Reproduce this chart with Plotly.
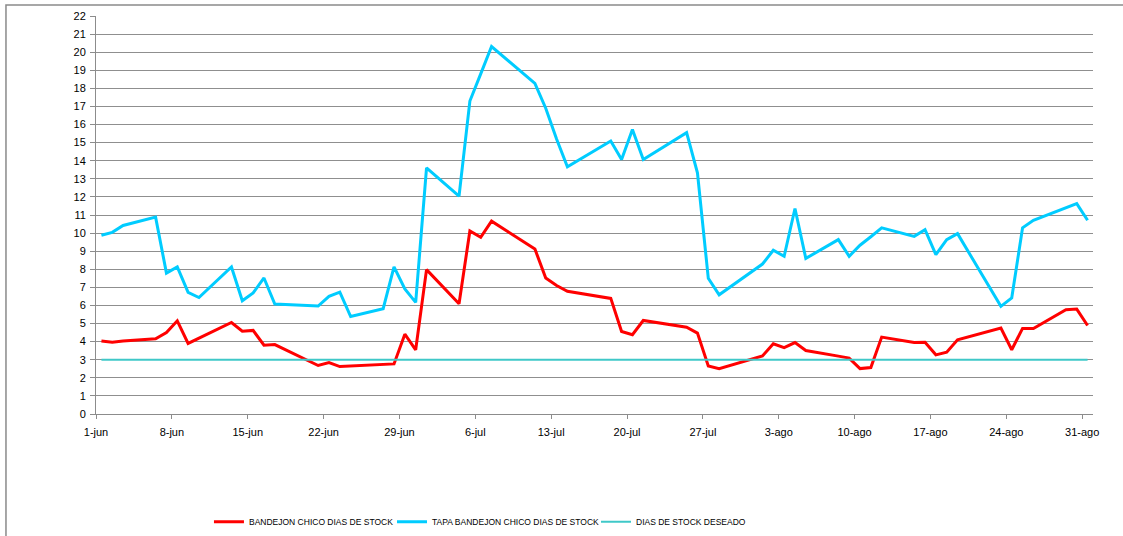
import pandas as pd
import plotly.graph_objects as go

dates = ["2013-06-01", "2013-06-02", "2013-06-03", "2013-06-06", "2013-06-07", "2013-06-08",
         "2013-06-09", "2013-06-10", "2013-06-13", "2013-06-14", "2013-06-15", "2013-06-16",
         "2013-06-17", "2013-06-21", "2013-06-22", "2013-06-23", "2013-06-24", "2013-06-27",
         "2013-06-28", "2013-06-29", "2013-06-30", "2013-07-01", "2013-07-04", "2013-07-05",
         "2013-07-06", "2013-07-07", "2013-07-11", "2013-07-12", "2013-07-13", "2013-07-14",
         "2013-07-18", "2013-07-19", "2013-07-20", "2013-07-21", "2013-07-25", "2013-07-26",
         "2013-07-27", "2013-07-28", "2013-08-01", "2013-08-02", "2013-08-03", "2013-08-04",
         "2013-08-05", "2013-08-08", "2013-08-09", "2013-08-10", "2013-08-11", "2013-08-12",
         "2013-08-15", "2013-08-16", "2013-08-17", "2013-08-18", "2013-08-19", "2013-08-23",
         "2013-08-24", "2013-08-25", "2013-08-26", "2013-08-29", "2013-08-30", "2013-08-31"]

bandejon = [4.04, 3.97, 4.03, 4.16, 4.50, 5.15,
            3.90, 4.18, 5.06, 4.58, 4.62, 3.80,
            3.84, 2.68, 2.84, 2.62, 2.65, 2.77,
            2.77, 4.41, 3.55, 7.98, 6.09, 10.12,
            9.77, 10.66, 9.12, 7.52, 7.10, 6.78,
            6.39, 4.56, 4.38, 5.17, 4.80, 4.47,
            2.66, 2.51, 3.21, 3.88, 3.67, 3.95,
            3.51, 3.20, 3.09, 2.51, 2.57, 4.25,
            3.95, 3.97, 3.27, 3.42, 4.10, 4.75,
            3.55, 4.73, 4.73, 5.76, 5.80, 4.89]

tapa = [9.88, 10.04, 10.42, 10.88, 7.79, 8.13,
        6.72, 6.44, 8.13, 6.26, 6.69, 7.52,
        6.08, 5.97, 6.50, 6.74, 5.39, 5.82,
        8.13, 6.91, 6.17, 13.61, 12.04, 17.30,
        18.80, 20.31, 18.27, 16.90, 15.20, 13.67,
        15.09, 14.07, 15.73, 14.07, 15.55, 13.33,
        7.50, 6.59, 8.29, 9.05, 8.72, 11.36,
        8.60, 9.64, 8.72, 9.33, 9.80, 10.29,
        9.82, 10.19, 8.81, 9.64, 9.97, 5.95,
        6.41, 10.29, 10.71, 11.40, 11.63, 10.71]

deseado = [3] * len(dates)

tick_dates = ["2013-06-01", "2013-06-08", "2013-06-15", "2013-06-22", "2013-06-29", "2013-07-06",
              "2013-07-13", "2013-07-20", "2013-07-27", "2013-08-03", "2013-08-10", "2013-08-17",
              "2013-08-24", "2013-08-31"]
tick_labels = ["1-jun", "8-jun", "15-jun", "22-jun", "29-jun", "6-jul", "13-jul", "20-jul",
               "27-jul", "3-ago", "10-ago", "17-ago", "24-ago", "31-ago"]

# points sit in the middle of each day slot (Excel date axis, between tick marks)
x = pd.to_datetime(dates) + pd.Timedelta(hours=12)

FONT = "Liberation Sans, Arial, sans-serif"

fig = go.Figure()
fig.add_trace(go.Scatter(x=x, y=bandejon, mode="lines", name="BANDEJON CHICO DIAS DE STOCK",
                         line=dict(color="#FF0000", width=3), legend="legend"))
fig.add_trace(go.Scatter(x=x, y=tapa, mode="lines", name="TAPA BANDEJON CHICO DIAS DE STOCK",
                         line=dict(color="#00CCFF", width=3), legend="legend2"))
fig.add_trace(go.Scatter(x=x, y=deseado, mode="lines", name="DIAS DE STOCK DESEADO",
                         line=dict(color="#3FC8C8", width=2), legend="legend3"))

leg_common = dict(orientation="h", y=-0.271, xanchor="left", yanchor="middle",
                  font=dict(family=FONT, size=8.5, color="black"),
                  itemwidth=30, bgcolor="rgba(0,0,0,0)")

fig.update_layout(
    width=1123, height=536,
    margin=dict(l=96, r=30, t=16, b=122, autoexpand=False),
    paper_bgcolor="white", plot_bgcolor="white",
    font=dict(family=FONT, size=11, color="black"),
    showlegend=True,
    legend=dict(x=0.1133, **leg_common),
    legend2=dict(x=0.2969, **leg_common),
    legend3=dict(x=0.5015, **leg_common),
    xaxis=dict(type="date", automargin=False,
               range=[pd.Timestamp("2013-06-01"), pd.Timestamp("2013-09-01")],
               tickvals=pd.to_datetime(tick_dates), ticktext=tick_labels,
               showgrid=False, zeroline=False,
               showline=True, linecolor="#8c8c8c", linewidth=1,
               ticks="outside", ticklen=4, tickcolor="#8c8c8c",
               ticklabelstandoff=4,
               tickfont=dict(size=11, color="black")),
    yaxis=dict(range=[0, 22], tickmode="linear", tick0=0, dtick=1, automargin=False,
               showgrid=True, gridcolor="#8f8f8f", gridwidth=1, zeroline=False,
               showline=True, linecolor="#8c8c8c", linewidth=1,
               ticks="outside", ticklen=5, tickcolor="#8c8c8c",
               ticklabelstandoff=2,
               tickfont=dict(size=11, color="black")),
)

# outer chart frame (partially clipped by the window, as in the reference)
fig.add_shape(type="rect", xref="paper", yref="paper",
              x0=-0.0903, x1=1.2, y0=-0.5, y1=1.0276,
              line=dict(color="#8a8a8a", width=1.5), layer="below")

fig.write_html("out.html", config={"displayModeBar": False},
               post_script="document.body.style.margin='0';")
